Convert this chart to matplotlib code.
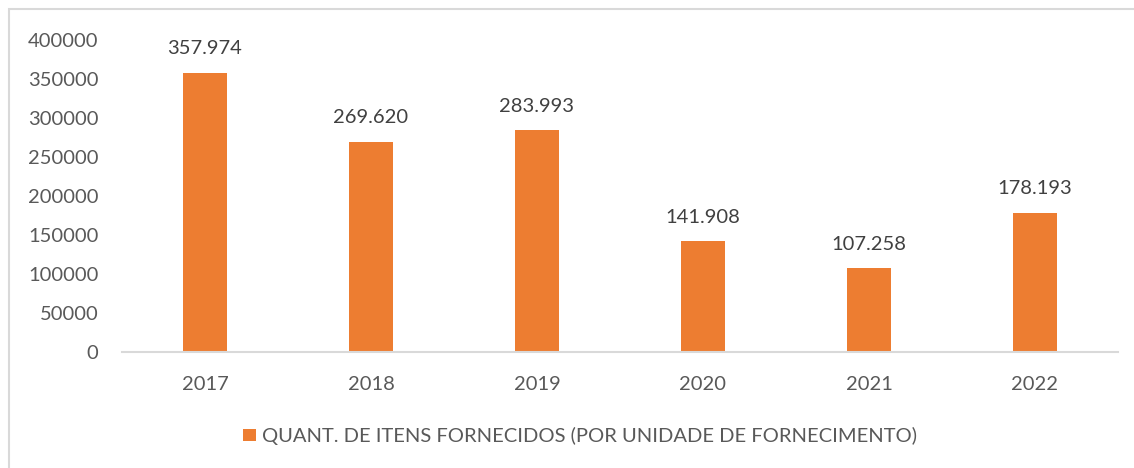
import matplotlib.pyplot as plt
from matplotlib.patches import Rectangle

plt.rcParams['font.family'] = ['Lato', 'DejaVu Sans']

anos = ['2017', '2018', '2019', '2020', '2021', '2022']
itens = [357974, 269620, 283993, 141908, 107258, 178193]
rotulos = ['357.974', '269.620', '283.993', '141.908', '107.258', '178.193']
yticks = [0, 50000, 100000, 150000, 200000, 250000, 300000, 350000, 400000]
legenda = 'QUANT. DE ITENS FORNECIDOS (POR UNIDADE DE FORNECIMENTO)'

laranja = '#ED7D31'
cinza = '#595959'
linha = '#D9D9D9'

fig = plt.figure(figsize=(11.34, 4.68), dpi=100)
# moldura da area do grafico
fig.patches.append(Rectangle((9/1134, -0.1), 1.2, 1 - 9/468 + 0.1, transform=fig.transFigure,
                             fill=False, edgecolor=linha, linewidth=1.5))

ax = fig.add_axes([122/1134, 1 - 352/468, (1118 - 122)/1134, (352 - 40)/468])
x = range(len(anos))
ax.bar(x, itens, width=0.26, color=laranja, label=legenda)
for xi, v, r in zip(x, itens, rotulos):
    ax.text(xi, v + 20000, r, ha='center', va='bottom', fontsize=14.5, color='#404040')

ax.set_xlim(-0.5, len(anos) - 0.5)
ax.set_ylim(0, 400000)
ax.set_yticks(yticks)
ax.set_yticklabels([str(t) for t in yticks])
ax.set_xticks(list(x))
ax.set_xticklabels(anos)
ax.tick_params(axis='both', length=0, labelsize=14.5, labelcolor=cinza)
ax.tick_params(axis='x', pad=17)
ax.tick_params(axis='y', pad=17)
for s in ['top', 'right', 'left']:
    ax.spines[s].set_visible(False)
ax.spines['bottom'].set_color(linha)
ax.spines['bottom'].set_linewidth(1.5)

fig.legend(loc='center', bbox_to_anchor=(580/1134, 1 - 436/468), frameon=False,
           fontsize=14.5, labelcolor=cinza, handlelength=0.6, handleheight=0.6,
           handletextpad=0.3)

fig.savefig('out.png', dpi=100)
